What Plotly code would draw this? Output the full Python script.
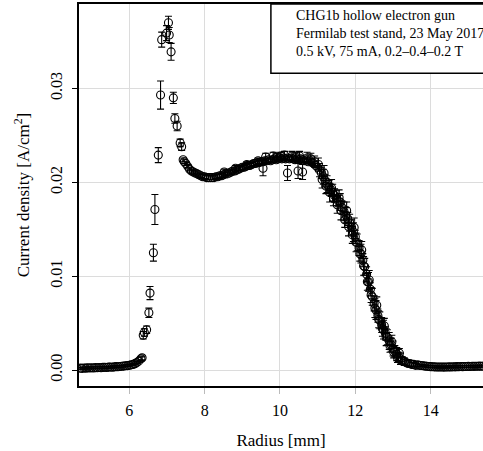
import plotly.graph_objects as go

# ---- data ----
low_r = [4.70, 4.75, 4.80, 4.85, 4.90, 4.95, 5.00, 5.05, 5.10, 5.15, 5.20, 5.25, 5.30, 5.35,
         5.40, 5.45, 5.50, 5.55, 5.60, 5.65, 5.70, 5.75, 5.80, 5.85, 5.90, 5.95, 6.00, 6.05,
         6.10, 6.15, 6.20, 6.25]
low_j = [0.00020, 0.00018, 0.00022, 0.00020, 0.00024, 0.00021, 0.00025, 0.00022, 0.00026,
         0.00024, 0.00027, 0.00025, 0.00028, 0.00030, 0.00027, 0.00031, 0.00033, 0.00030,
         0.00034, 0.00036, 0.00035, 0.00038, 0.00040, 0.00042, 0.00045, 0.00047, 0.00050,
         0.00055, 0.00060, 0.00068, 0.00080, 0.00095]
low_e = [0.00010] * len(low_r)

edge_r = [6.31, 6.34, 6.37, 6.40, 6.46, 6.52, 6.55, 6.64, 6.68, 6.77, 6.83, 6.86, 6.99, 7.04,
          7.06, 7.11, 7.17, 7.21, 7.27, 7.35, 7.39]
edge_j = [0.0012, 0.0013, 0.0037, 0.0040, 0.0043, 0.0061, 0.0082, 0.0125, 0.0171, 0.0229,
          0.0293, 0.0352, 0.0359, 0.0370, 0.0357, 0.0339, 0.0290, 0.0268, 0.0260, 0.0242,
          0.0238]
edge_e = [0.0002, 0.0002, 0.0004, 0.0004, 0.0004, 0.0005, 0.0007, 0.0009, 0.0016, 0.0008,
          0.0015, 0.0008, 0.0008, 0.0007, 0.0008, 0.0009, 0.0006, 0.0005, 0.0005, 0.0004,
          0.0004]

mid_r = [7.43, 7.46, 7.50, 7.55, 7.60, 7.65, 7.70, 7.75, 7.80, 7.85, 7.90, 7.95, 8.00, 8.05,
         8.10, 8.15, 8.20, 8.25, 8.30, 8.35, 8.40, 8.45, 8.50, 8.55, 8.60, 8.65, 8.70, 8.75,
         8.80, 8.85, 8.90, 8.95, 9.00, 9.05, 9.10, 9.15, 9.20, 9.25, 9.30, 9.35, 9.40, 9.45,
         9.50, 9.55, 9.55, 9.60, 9.65, 9.70, 9.75, 9.80, 9.85, 9.90, 9.95, 10.00, 10.05, 10.10,
         10.15, 10.20, 10.20, 10.25, 10.30, 10.35, 10.40, 10.45, 10.48, 10.50, 10.55, 10.60,
         10.60, 10.65, 10.70, 10.75, 10.80, 10.85, 10.90, 10.95, 11.00]
mid_j = [0.0224, 0.0222, 0.0220, 0.0217, 0.0214, 0.0212, 0.0211, 0.0210, 0.0209, 0.0208,
         0.0207, 0.0206, 0.0206, 0.0205, 0.0205, 0.0205, 0.0205, 0.0205, 0.0206, 0.0206,
         0.0207, 0.0207, 0.0208, 0.0209, 0.0209, 0.0210, 0.0211, 0.0212, 0.0212, 0.0213,
         0.0214, 0.0215, 0.0216, 0.0216, 0.0217, 0.0218, 0.0218, 0.0219, 0.0220, 0.0220,
         0.0221, 0.0221, 0.0222, 0.0215, 0.0222, 0.0223, 0.0223, 0.0224, 0.0223, 0.0224,
         0.0225, 0.0224, 0.0225, 0.0226, 0.0225, 0.0226, 0.0225, 0.0210, 0.0226, 0.0225,
         0.0226, 0.0225, 0.0224, 0.0225, 0.0212, 0.0224, 0.0225, 0.0211, 0.0224, 0.0223,
         0.0224, 0.0222, 0.0223, 0.0221, 0.0220, 0.0218, 0.0216]
mid_e = [0.0002] * len(mid_r)
for i, (r, j) in enumerate(zip(mid_r, mid_j)):
    if j < 0.0216 and r > 9.5:
        mid_e[i] = 0.0008

# second set of measurements on the plateau (makes the band thicker)
mid2_r = [8.52, 8.82, 9.12, 9.42, 9.62, 9.82, 9.92, 10.02, 10.12, 10.32, 10.42, 10.52, 10.72,
          10.82, 10.92, 11.02]
mid2_j = [0.0211, 0.0215, 0.0219, 0.0223, 0.0227, 0.0228, 0.0227, 0.0228, 0.0229, 0.0228,
          0.0227, 0.0228, 0.0226, 0.0225, 0.0222, 0.0219]
mid2_e = [0.0003, 0.0003, 0.0003, 0.0003, 0.0004, 0.0004, 0.0004, 0.0004, 0.0004, 0.0005,
          0.0005, 0.0005, 0.0006, 0.0006, 0.0006, 0.0007]

fall_r = [11.05, 11.10, 11.15, 11.20, 11.25, 11.30, 11.35, 11.40, 11.45, 11.50, 11.55, 11.60,
          11.65, 11.70, 11.75, 11.80, 11.85, 11.90, 11.95, 12.00, 12.05, 12.10, 12.15, 12.20,
          12.25, 12.30, 12.35, 12.40, 12.45, 12.50, 12.55, 12.60, 12.65, 12.70, 12.75, 12.80,
          12.85, 12.90, 12.95, 13.00, 13.05, 13.10, 13.15, 13.20, 13.25, 13.30, 13.35, 13.40,
          13.45, 13.50, 13.55, 13.60]
fall_j = [0.0213, 0.0210, 0.0206, 0.0202, 0.0198, 0.0195, 0.0192, 0.0189, 0.0186, 0.0183,
          0.0180, 0.0179, 0.0173, 0.0169, 0.0165, 0.0161, 0.0157, 0.0152, 0.0147, 0.0142,
          0.0136, 0.0130, 0.0124, 0.0117, 0.0110, 0.0102, 0.0094, 0.0086, 0.0078, 0.0071,
          0.0064, 0.0058, 0.0053, 0.0048, 0.0043, 0.0039, 0.0035, 0.0031, 0.0027, 0.0023,
          0.0020, 0.0017, 0.0014, 0.0012, 0.0010, 0.0009, 0.0008, 0.0007, 0.0007, 0.0006,
          0.0006, 0.0005]
fall_e = [0.0007, 0.0006, 0.0008, 0.0006, 0.0009, 0.0007, 0.0006, 0.0009, 0.0007, 0.0008,
          0.0006, 0.0009, 0.0007, 0.0010, 0.0008, 0.0007, 0.0009, 0.0008, 0.0010, 0.0007,
          0.0009, 0.0008, 0.0010, 0.0007, 0.0009, 0.0008, 0.0010, 0.0007, 0.0009, 0.0008,
          0.0010, 0.0007, 0.0009, 0.0008, 0.0010, 0.0007, 0.0008, 0.0009, 0.0007, 0.0008,
          0.0006, 0.0007, 0.0005, 0.0006, 0.0004, 0.0004, 0.0003, 0.0003, 0.0003, 0.0002,
          0.0002, 0.0002]

# second set on the fall-off, slightly scattered around the first
fall2_r = [11.12, 11.22, 11.32, 11.42, 11.52, 11.62, 11.72, 11.82, 11.92, 12.02, 12.12, 12.22,
           12.32, 12.42, 12.52, 12.62, 12.72, 12.82, 12.92, 13.02, 13.12, 13.22]
fall2_j = [0.0203, 0.0196, 0.0189, 0.0183, 0.0176, 0.0170, 0.0160, 0.0153, 0.0144, 0.0136,
           0.0124, 0.0111, 0.0094, 0.0080, 0.0066, 0.0054, 0.0044, 0.0035, 0.0026, 0.0019,
           0.0013, 0.0010]
fall2_e = [0.0009, 0.0008, 0.0010, 0.0008, 0.0009, 0.0010, 0.0008, 0.0010, 0.0009, 0.0010,
           0.0008, 0.0010, 0.0009, 0.0008, 0.0010, 0.0009, 0.0008, 0.0009, 0.0007, 0.0006,
           0.0005, 0.0004]
fall3_r = [11.17, 11.37, 11.57, 11.77, 11.97, 12.17, 12.37, 12.57, 12.77, 12.97, 13.17]
fall3_j = [0.0210, 0.0194, 0.0184, 0.0170, 0.0152, 0.0128, 0.0096, 0.0069, 0.0047, 0.0030,
           0.0018]
fall3_e = [0.0008, 0.0009, 0.0008, 0.0009, 0.0010, 0.0009, 0.0010, 0.0009, 0.0008, 0.0007,
           0.0005]

tail_r = [13.65, 13.70, 13.75, 13.80, 13.85, 13.90, 13.95, 14.00, 14.05, 14.10, 14.15, 14.20,
          14.25, 14.30, 14.35, 14.40, 14.45, 14.50, 14.55, 14.60, 14.65, 14.70, 14.75, 14.80,
          14.85, 14.90, 14.95, 15.00, 15.05, 15.10, 15.15, 15.20, 15.25, 15.30, 15.35, 15.40]
tail_j = [0.00055, 0.00050, 0.00048, 0.00045, 0.00042, 0.00040, 0.00038, 0.00036, 0.00035,
          0.00034, 0.00033, 0.00033, 0.00032, 0.00032, 0.00031, 0.00033, 0.00032, 0.00034,
          0.00033, 0.00035, 0.00034, 0.00036, 0.00035, 0.00037, 0.00036, 0.00038, 0.00037,
          0.00039, 0.00038, 0.00040, 0.00039, 0.00041, 0.00040, 0.00042, 0.00041, 0.00043]
tail_e = [0.00010] * len(tail_r)

radius = low_r + edge_r + mid_r + mid2_r + fall_r + fall2_r + fall3_r + tail_r
current = low_j + edge_j + mid_j + mid2_j + fall_j + fall2_j + fall3_j + tail_j
error = low_e + edge_e + mid_e + mid2_e + fall_e + fall2_e + fall3_e + tail_e

x_ticks = [6, 8, 10, 12, 14]
y_ticks = [0.00, 0.01, 0.02, 0.03]
y_tick_labels = ["0.00", "0.01", "0.02", "0.03"]

note_lines = ["CHG1b hollow electron gun",
              "Fermilab test stand, 23 May 2017",
              "0.5 kV, 75 mA, 0.2\u20130.4\u20130.2 T"]

FONT = "Liberation Serif"

fig = go.Figure()
fig.add_trace(go.Scatter(
    x=radius, y=current, mode="markers",
    marker=dict(symbol="circle-open", size=8, color="black", line=dict(width=1.1, color="black")),
    error_y=dict(type="data", array=error, visible=True, color="black", thickness=1.1, width=3.5),
    showlegend=False, cliponaxis=True,
))

fig.update_layout(
    width=483, height=451,
    margin=dict(l=79, r=0, t=4, b=65),
    paper_bgcolor="white", plot_bgcolor="white",
    font=dict(family=FONT, size=15, color="black"),
    xaxis=dict(
        range=[4.665, 15.39], tickvals=x_ticks, ticks="outside", ticklen=6,
        tickcolor="#bbbbbb", tickwidth=1, showgrid=True, gridcolor="#dcdcdc", gridwidth=1,
        showline=True, linecolor="black", linewidth=1.5, mirror=True, zeroline=False,
        tickfont=dict(family=FONT, size=16), ticklabelstandoff=3,
        title=dict(text="Radius [mm]", font=dict(family=FONT, size=17), standoff=16),
    ),
    yaxis=dict(
        range=[-0.0017, 0.0390], tickvals=y_ticks, ticktext=y_tick_labels, ticks="outside",
        ticklen=5, tickcolor="black", tickwidth=1, showgrid=True, gridcolor="#dcdcdc",
        gridwidth=1, showline=True, linecolor="black", linewidth=1.5, zeroline=False,
        tickangle=-90, tickfont=dict(family=FONT, size=16), ticklabelstandoff=4,
        title=dict(text="Current density [A/cm<sup>2</sup>]", font=dict(family=FONT, size=17),
                   standoff=14),
    ),
)

fig.add_shape(type="rect", xref="paper", yref="paper", x0=0.475, x1=1.1, y0=0.819, y1=1.0,
              line=dict(color="black", width=1.5), fillcolor="white", layer="above")
fig.add_annotation(xref="paper", yref="paper", x=0.532, y=0.995, xanchor="left", yanchor="top",
                   text="<br>".join(note_lines), align="left", showarrow=False,
                   font=dict(family=FONT, size=14, color="black"))

fig.write_html("out.html")
